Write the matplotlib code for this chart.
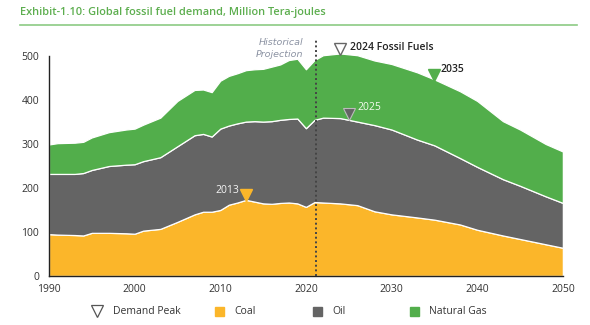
import matplotlib.pyplot as plt
from matplotlib.lines import Line2D
from matplotlib.patches import Rectangle

plt.rcParams['font.family'] = ['Open Sans', 'DejaVu Sans']

# Global fossil fuel demand, Million TJ (stack tops: coal, coal+oil, coal+oil+gas)
years = [1990, 1991, 1993, 1994, 1995, 1997, 1999, 2000, 2001, 2003, 2005,
         2007, 2008, 2009, 2010, 2011, 2012, 2013, 2014, 2015, 2016, 2017,
         2018, 2019, 2020, 2021, 2022, 2024, 2026, 2028, 2030, 2033, 2035,
         2038, 2040, 2043, 2045, 2048, 2050]
coal = [95, 94, 93, 92, 98, 98, 97, 96, 103, 107, 123,
        140, 146, 146, 150, 162, 167, 173, 169, 165, 164, 166,
        167, 165, 157, 168, 167, 165, 161, 147, 140, 133, 128,
        117, 105, 92, 84, 72, 64]
oil_top = [232, 232, 232, 234, 241, 250, 253, 254, 261, 270, 295,
           320, 323, 317, 335, 342, 347, 351, 352, 351, 352, 355,
           357, 358, 336, 355, 360, 359, 351, 343, 333, 310, 297,
           268, 248, 220, 205, 181, 166]
gas_top = [299, 302, 303, 305, 315, 327, 333, 335, 344, 360, 398,
           423, 424, 418, 444, 455, 461, 468, 470, 471, 476, 481,
           491, 494, 470, 491, 502, 506, 502, 490, 482, 463, 447,
           420, 398, 352, 333, 300, 283]

oil = [o - c for o, c in zip(oil_top, coal)]
gas = [g - o for g, o in zip(gas_top, oil_top)]

peak_years = {'coal': 2013, 'oil': 2025, 'gas': 2035, 'all': 2024}
split_year = 2021.2

c_coal = '#FBB62A'
c_oil = '#646464'
c_gas = '#52AE4B'

fig = plt.figure(figsize=(5.9, 3.25), dpi=100)
ax = fig.add_axes([0.083, 0.151, 0.871, 0.717])

ax.stackplot(years, coal, oil, gas, colors=[c_coal, c_oil, c_gas],
             edgecolor='white', linewidth=0.9)

ax.set_xlim(1990, 2050)
ax.set_ylim(0, 530)
ax.set_xticks(range(1990, 2051, 10))
ax.set_yticks(range(0, 501, 100))
ax.tick_params(length=0, labelsize=7.5, colors='#333333')
ax.tick_params(axis='y', pad=7)
ax.tick_params(axis='x', pad=6)
for s in ['top', 'right']:
    ax.spines[s].set_visible(False)
ax.spines['left'].set_bounds(0, 500)
for s in ['left', 'bottom']:
    ax.spines[s].set_color('#222222')
    ax.spines[s].set_linewidth(1.0)

# historical / projection split
ax.plot([split_year, split_year], [0, 542], ls=(0, (1, 1.4)), lw=1.4,
        color='#444444', clip_on=False, zorder=5)
ax.text(2019.7, 530, 'Historical', ha='right', va='center', fontsize=6.8,
        style='italic', color='#8C93A3',
        family=['Liberation Sans Narrow', 'DejaVu Sans Condensed', 'DejaVu Sans'])
ax.text(2019.7, 503, 'Projection', ha='right', va='center', fontsize=6.8,
        style='italic', color='#8C93A3',
        family=['Liberation Sans Narrow', 'DejaVu Sans Condensed', 'DejaVu Sans'])

# peak markers
y_all = 506
ax.plot(peak_years['all'], y_all + 10, marker='v', ms=9, mfc='white',
        mec='#666666', mew=1.0, clip_on=False, zorder=6)
ax.text(peak_years['all'] + 1.2, y_all + 14, '2024 Fossil Fuels', fontsize=7.5,
        fontweight='semibold', color='#222222', va='center')

y_gas = 447
ax.plot(peak_years['gas'], y_gas + 10, marker='v', ms=8, mfc=c_gas,
        mec=c_gas, clip_on=False, zorder=6)
ax.text(peak_years['gas'] + 0.7, y_gas + 22, '2035', fontsize=7.5,
        fontweight='semibold', color='#222222', va='center')

y_oil = 358
ax.plot(peak_years['oil'], y_oil + 10, marker='v', ms=8.5, mfc=c_oil,
        mec='#BBBBBB', mew=0.8, zorder=6)
ax.text(peak_years['oil'] + 1.0, y_oil + 25, '2025', fontsize=7.5,
        color='#F4FBEF', va='center')

y_coal = 173
ax.plot(peak_years['coal'], y_coal + 10, marker='v', ms=8.5, mfc=c_coal,
        mec=c_coal, zorder=6)
ax.text(peak_years['coal'] - 0.8, y_coal + 22, '2013', fontsize=7.5,
        color='#F4F4F4', va='center', ha='right')

# title with rule underneath
fig.text(20 / 590, 1 - 12 / 325, 'Exhibit-1.10: Global fossil fuel demand, Million Tera-joules',
         fontsize=7.9, fontweight='semibold', color='#5DAE4F', va='center')
fig.add_artist(Line2D([20 / 590, 577 / 590], [1 - 25 / 325, 1 - 25 / 325],
                      color='#8CCB84', lw=1.2))

# legend row
ly = 1 - 311 / 325
fig.add_artist(Line2D([97 / 590], [ly], marker='v', ms=9, mfc='white',
                      mec='#555555', mew=0.9, ls='none'))
fig.text(113 / 590, ly, 'Demand Peak', fontsize=7.5, color='#333333', va='center')
for x0, col, lab in [(219, c_coal, 'Coal'), (317, c_oil, 'Oil'),
                     (414, c_gas, 'Natural Gas')]:
    fig.add_artist(Rectangle(((x0 - 4.5) / 590, ly - 4.5 / 325), 9 / 590, 9 / 325,
                             transform=fig.transFigure, color=col))
    fig.text((x0 + 15) / 590, ly, lab, fontsize=7.5, color='#333333', va='center')

fig.savefig('out.png', dpi=100)
